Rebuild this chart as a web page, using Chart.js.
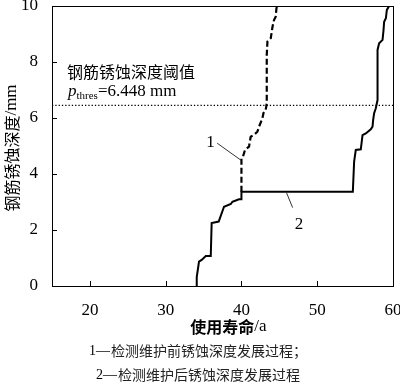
<!DOCTYPE html>
<html>
<head>
<meta charset="utf-8">
<script src="https://cdn.jsdelivr.net/npm/chart.js@4"></script>
<style>
  html, body { margin: 0; padding: 0; background: #fff; }
  #wrap { width: 400px; height: 385px; position: relative; }
</style>
</head>
<body>
<div id="wrap"><canvas id="chart" width="400" height="385"></canvas></div>
<script>
// service life (a) and corrosion depth (mm)
const lifeBefore = [40.0, 40.0, 40.2, 40.47, 41.0, 41.22, 41.66, 42.1, 42.32, 42.77, 42.9, 43.2, 43.34, 43.34, 43.43, 43.87, 44.1, 44.3, 44.52, 44.62, 44.75];
const depthBefore = [3.37, 4.56, 4.62, 4.86, 4.98, 5.33, 5.4, 5.51, 5.69, 5.99, 6.17, 6.29, 6.52, 8.25, 8.73, 8.85, 9.26, 9.5, 9.62, 9.92, 10.0];

const lifeAfter = [34.1, 34.1, 34.4, 34.75, 35.3, 35.95, 36.07, 37.0, 37.7, 38.6, 38.8, 39.67, 40.0, 40.0, 54.7, 54.87, 55.09, 55.75, 55.98, 56.41, 57.07, 57.3, 57.38, 57.51, 57.73, 57.96, 57.96, 58.17, 58.62, 58.75, 58.83, 59.06, 59.19, 59.49];
const depthAfter = [0, 0.32, 0.87, 0.93, 1.07, 1.07, 2.25, 2.3, 2.83, 2.93, 3.01, 3.1, 3.1, 3.37, 3.37, 4.44, 4.86, 4.88, 5.39, 5.45, 5.6, 5.69, 5.93, 6.17, 6.35, 6.64, 8.43, 8.67, 8.79, 9.14, 9.44, 9.56, 9.86, 10.0];

const threshold = 6.448;
const xTicks = [20, 30, 40, 50, 60];
const yTicks = [0, 2, 4, 6, 8, 10];

const serif = '"Liberation Serif", "Times New Roman", serif';
const cjk = '"Noto Sans CJK SC", sans-serif';

function toPoints(xs, ys) {
    return xs.map((x, i) => ({ x: x, y: ys[i] }));
}

// frame, inward ticks, labels and leader lines
const decorations = {
    id: 'decorations',
    afterDraw(chart) {
        const c = chart.ctx;
        const a = chart.chartArea;
        const xs = chart.scales.x;
        const ys = chart.scales.y;
        c.save();
        c.strokeStyle = '#000';
        c.lineWidth = 1;
        c.strokeRect(a.left + 0.5, a.top + 0.5, a.right - a.left, a.bottom - a.top);

        // inward tick marks
        c.beginPath();
        xTicks.forEach(v => {
            const px = Math.round(xs.getPixelForValue(v)) + 0.5;
            c.moveTo(px, a.bottom);
            c.lineTo(px, a.bottom - 5);
        });
        yTicks.forEach(v => {
            const py = Math.round(ys.getPixelForValue(v)) + 0.5;
            c.moveTo(a.left, py);
            c.lineTo(a.left + 5, py);
        });
        c.stroke();

        // threshold text
        c.fillStyle = '#000';
        c.textBaseline = 'middle';
        c.textAlign = 'left';
        c.font = '16px ' + cjk;
        c.fillText('钢筋锈蚀深度阈值', a.left + 15, 72);
        let tx = a.left + 16;
        c.font = 'italic 17px ' + serif;
        c.fillText('p', tx, 92);
        tx += c.measureText('p').width;
        c.font = '11px ' + serif;
        c.fillText('thres', tx, 96);
        tx += c.measureText('thres').width;
        c.font = '17px ' + serif;
        c.fillText('=6.448 mm', tx, 92);

        // curve labels with leader lines
        c.lineWidth = 0.8;
        c.beginPath();
        c.moveTo(xs.getPixelForValue(36.8), ys.getPixelForValue(5.1));
        c.lineTo(xs.getPixelForValue(39.9), ys.getPixelForValue(4.5));
        c.moveTo(xs.getPixelForValue(46.75), ys.getPixelForValue(2.8));
        c.lineTo(xs.getPixelForValue(45.95), ys.getPixelForValue(3.33));
        c.stroke();
        c.font = '17px ' + serif;
        c.textAlign = 'center';
        c.fillText('1', xs.getPixelForValue(35.9), ys.getPixelForValue(5.14));
        c.fillText('2', xs.getPixelForValue(47.6), ys.getPixelForValue(2.2));

        // x axis title
        const cx = (a.left + a.right) / 2;
        const t1 = '使用寿命';
        c.font = 'bold 16px ' + cjk;
        const w1 = c.measureText(t1).width;
        c.font = '17px ' + serif;
        const w2 = c.measureText('/a').width;
        let sx = cx + 6 - (w1 + w2) / 2;
        c.textAlign = 'left';
        c.font = 'bold 16px ' + cjk;
        c.fillText(t1, sx, 327);
        c.font = '17px ' + serif;
        c.fillText('/a', sx + w1, 327);

        // y title rotated
        c.save();
        c.translate(12, 148);
        c.rotate(-Math.PI / 2);
        c.font = '16px ' + cjk;
        const yw1 = c.measureText('钢筋锈蚀深度').width;
        c.font = '17px ' + serif;
        const yw2 = c.measureText('/mm').width;
        let yx = -(yw1 + yw2) / 2;
        c.font = '16px ' + cjk;
        c.fillText('钢筋锈蚀深度', yx, 0);
        c.font = '17px ' + serif;
        c.fillText('/mm', yx + yw1, 0);
        c.restore();

        // captions
        c.font = '14px ' + serif;
        c.fillText('1—', 89, 351);
        c.fillText('2—', 96, 375);
        c.font = '14px ' + cjk;
        c.fillStyle = '#222';
        c.fillText('检测维护前锈蚀深度发展过程；', 89 + 22, 351);
        c.fillText('检测维护后锈蚀深度发展过程', 96 + 22, 375);
        c.restore();
    }
};

const ctx = document.getElementById('chart').getContext('2d');
const chart = new Chart(ctx, {
    type: 'scatter',
    data: {
        datasets: [
            {
                label: 'threshold',
                data: [{ x: 15, y: threshold }, { x: 60, y: threshold }],
                showLine: true,
                borderColor: '#000',
                borderWidth: 1.3,
                borderDash: [1.3, 2],
                pointRadius: 0
            },
            {
                label: '1',
                data: toPoints(lifeBefore, depthBefore),
                showLine: true,
                borderColor: '#000',
                borderWidth: 2.2,
                borderDash: [6, 3],
                pointRadius: 0
            },
            {
                label: '2',
                data: toPoints(lifeAfter, depthAfter),
                showLine: true,
                borderColor: '#000',
                borderWidth: 2,
                pointRadius: 0
            }
        ]
    },
    options: {
        responsive: false,
        animation: false,
        layout: { padding: { top: 6, right: 7, left: 0, bottom: 0 } },
        plugins: {
            legend: { display: false },
            tooltip: { enabled: false }
        },
        scales: {
            x: {
                type: 'linear',
                min: 15,
                max: 60,
                afterBuildTicks: s => { s.ticks = xTicks.map(v => ({ value: v })); },
                afterFit: s => {
                    s.height = 99;
                    s.paddingLeft = 0;
                    s.paddingRight = 0;
                },
                grid: { display: false },
                border: { display: true, color: '#000', width: 1 },
                ticks: {
                    color: '#000',
                    padding: 6,
                    font: { family: serif, size: 17 }
                }
            },
            y: {
                type: 'linear',
                min: 0,
                max: 10,
                afterBuildTicks: s => { s.ticks = yTicks.map(v => ({ value: v })); },
                afterFit: s => {
                    s.width = 52;
                    s.paddingTop = 0;
                    s.paddingBottom = 0;
                },
                grid: { display: false },
                border: { display: true, color: '#000', width: 1 },
                ticks: {
                    color: '#000',
                    padding: 6,
                    font: { family: serif, size: 17 }
                }
            }
        }
    },
    plugins: [decorations]
});
</script>
</body>
</html>
